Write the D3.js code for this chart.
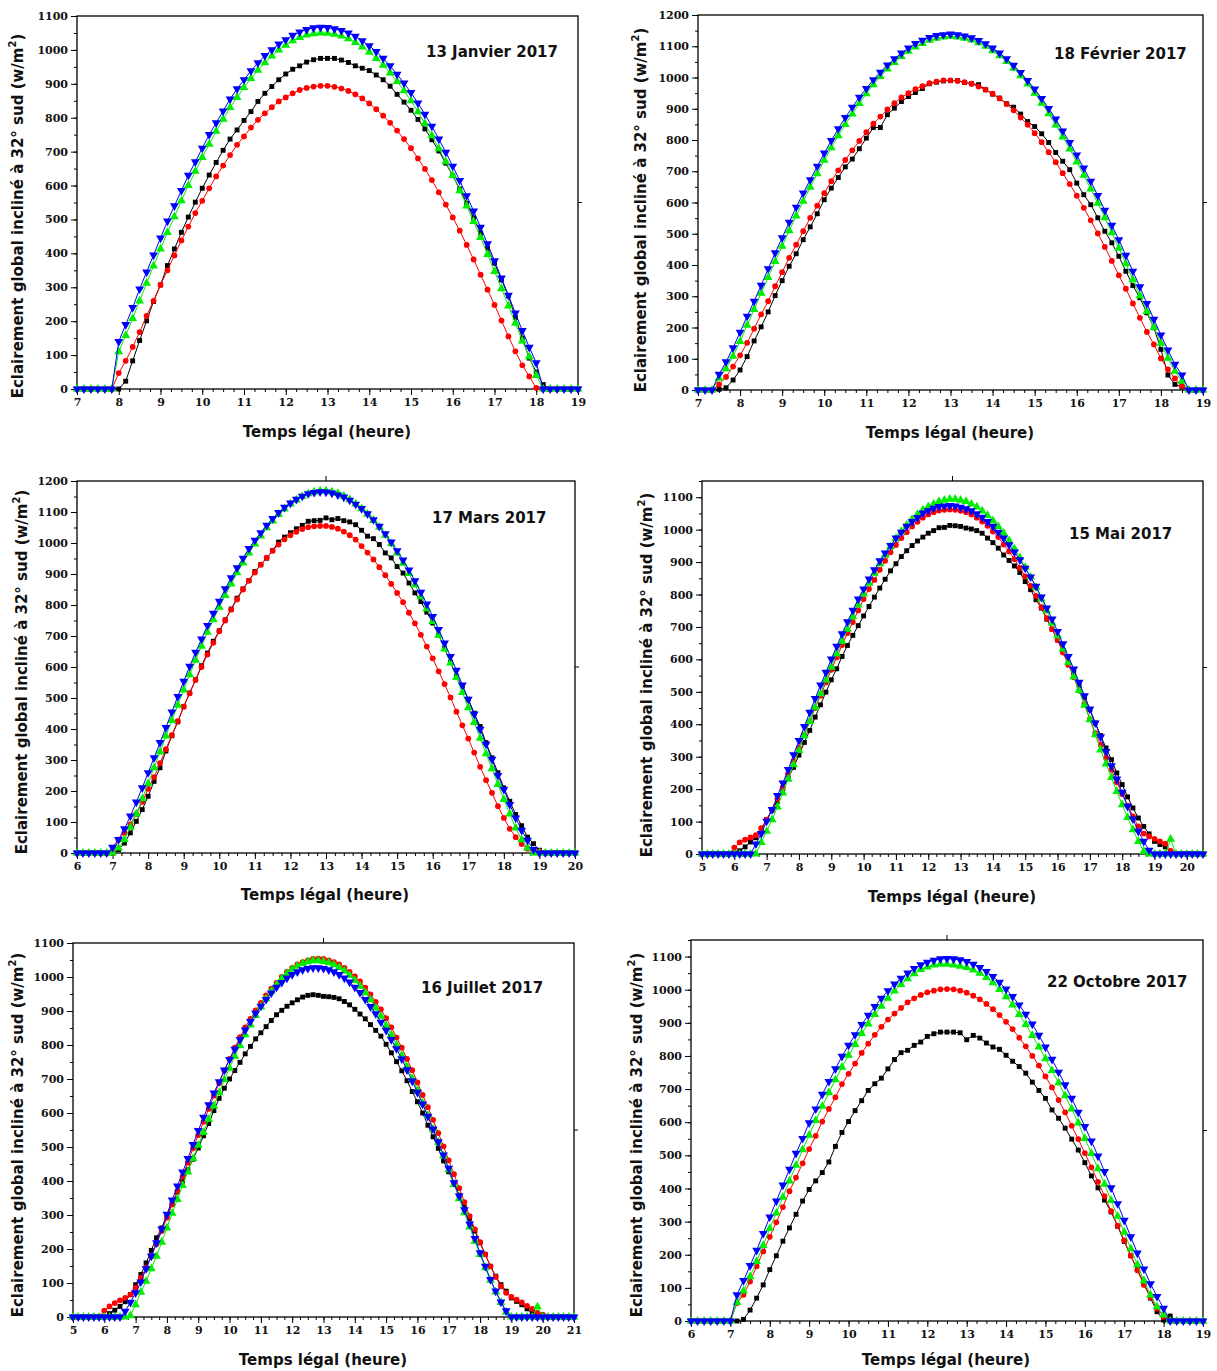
<!DOCTYPE html>
<html><head><meta charset="utf-8">
<script src="https://cdn.jsdelivr.net/npm/d3@7/dist/d3.min.js"></script>
<style>body{margin:0;background:#fff}</style>
</head><body>
<svg id="chart" width="1217" height="1371"></svg>
<script>
// ---------- DATA (values every 10 minutes, starting at the given hour) ----------
const titles = ["13 Janvier 2017","18 Février 2017","17 Mars 2017","15 Mai 2017","16 Juillet 2017","22 Octobre 2017"];
const startHours = [7, 7, 6, 5, 5, 6];
const xTickLabels = [
  [7,8,9,10,11,12,13,14,15,16,17,18,19],
  [7,8,9,10,11,12,13,14,15,16,17,18,19],
  [6,7,8,9,10,11,12,13,14,15,16,17,18,19,20],
  [5,6,7,8,9,10,11,12,13,14,15,16,17,18,19,20],
  [5,6,7,8,9,10,11,12,13,14,15,16,17,18,19,20,21],
  [6,7,8,9,10,11,12,13,14,15,16,17,18,19]
];
const yTickLabels = [
  [0,100,200,300,400,500,600,700,800,900,1000,1100],
  [0,100,200,300,400,500,600,700,800,900,1000,1100,1200],
  [0,100,200,300,400,500,600,700,800,900,1000,1100,1200],
  [0,100,200,300,400,500,600,700,800,900,1000,1100],
  [0,100,200,300,400,500,600,700,800,900,1000,1100],
  [0,100,200,300,400,500,600,700,800,900,1000,1100]
];
const seriesNames = ["black", "red", "green", "blue"];

// Panel 1 : 13 Janvier 2017 (7h -> 19h)
const jan_black = [0,0,0,0,0,0, 0,23,83,143,201,258, 307,364,413,462,507,551, 592,631,668,704,737,764, 792,818,848,872,892,912, 929,943,953,964,971,975, 975,975,970,963,953,946, 939,926,912,893,869,846, 822,795,767,735,702,666, 629,590,548,505,460,416, 371,322,275,211,150,91, 50,13,0,0,0,0, 0];
const jan_red   = [0,0,0,0,0,0, 47,83,124,168,216,260, 307,350,394,438,479,519, 555,592,627,659,690,720, 745,771,794,813,831,848, 860,872,882,888,892,894, 894,891,886,879,869,857, 842,825,806,785,762,737, 710,680,649,616,580,544, 506,467,425,382,337,293, 248,202,155,111,70,37, 3,0,0,0,0,0, 0];
const jan_green = [0,0,0,0,0,0, 110,158,208,260,312,363, 413,462,508,555,600,642, 683,722,760,796,830,860, 889,916,940,962,982,1000, 1014,1027,1037,1044,1048,1050, 1049,1046,1041,1033,1022,1009, 993,975,955,932,907,880, 850,818,783,747,709,670, 630,585,540,494,447,397, 347,296,245,194,142,95, 40,0,0,0,0,0, 0];
const jan_blue  = [0,0,0,0,0,0, 140,190,240,295,345,395, 445,495,540,585,630,670, 710,750,785,820,855,885, 912,938,962,983,1000,1017, 1030,1043,1053,1060,1065,1067, 1066,1062,1057,1050,1040,1027, 1012,995,975,953,928,902, 874,843,810,775,737,698, 657,615,570,525,477,428, 378,327,276,224,172,123, 77,0,0,0,0,0, 0];

// Panel 2 : 18 Février 2017 (7h -> 19h)
const feb_black = [0,0,0,2,7,32, 64,107,157,202,250,302, 350,396,436,481,522,564, 609,646,680,714,739,772, 806,840,840,881,902,923, 939,952,965,980,985,989, 990,990,984,980,977,961, 947,934,916,905,883,859, 843,820,792,760,732,705, 662,625,593,551,508,471, 428,380,334,295,247,199, 130,48,18,10,0,0, 0];
const feb_red   = [0,0,0,18,42,75, 111,151,196,242,284,332, 377,423,465,508,551,590, 630,668,703,736,767,797, 825,852,875,898,918,936, 950,963,972,982,987,991, 991,989,985,980,971,961, 948,933,915,895,872,849, 822,793,761,729,694,659, 622,583,543,501,458,413, 367,324,277,231,186,146, 101,66,37,13,0,0, 0];
const feb_green = [0,0,0,38,68,108, 155,207,258,310,360,411, 460,510,557,604,649,692, 735,775,814,850,883,917, 948,977,1003,1027,1048,1067, 1084,1098,1109,1119,1126,1130, 1132,1130,1126,1120,1111,1100, 1086,1070,1051,1030,1006,979, 950,918,884,848,810,771, 730,687,643,598,551,503, 454,404,353,302,251,200, 150,102,60,28,0,0, 0];
const feb_blue  = [0,0,0,50,90,135, 185,236,284,335,388,439, 487,537,585,630,673,716, 758,798,836,872,905,937, 965,993,1017,1040,1060,1078, 1094,1109,1119,1128,1134,1137, 1139,1137,1133,1127,1118,1108, 1094,1078,1060,1039,1016,990, 963,933,901,867,829,792, 752,710,668,622,575,527, 481,431,380,330,277,226, 176,128,82,48,0,0, 0];

// Panel 3 : 17 Mars 2017 (6h -> 20h)
const mar_black = [0,0,0,0,0,0, 0,11,32,65,102,140, 183,231,275,329,378,423, 472,516,559,604,645,683, 717,752,787,822,852,879, 908,930,951,976,1003,1019, 1033,1046,1057,1070,1072,1073, 1081,1075,1079,1072,1068,1059, 1041,1022,1014,995,968,952, 924,903,871,839,811,777, 742,703,661,615,570,539, 496,451,408,356,307,259, 210,167,124,88,51,30, 9,0,0,0,0,0, 0];
const mar_red   = [0,0,0,0,0,0, 0,43,65,92,126,165, 207,245,290,335,380,425, 472,515,558,600,640,678, 715,750,785,818,850,878, 905,930,953,975,995,1012, 1025,1036,1045,1051,1054,1055, 1055,1052,1046,1037,1025,1011, 990,969,947,922,896,868, 839,809,775,741,704,666, 628,586,545,502,456,412, 369,324,278,235,194,151, 113,78,51,29,14,5, 5,0,0,0,0,0, 0];
const mar_green = [0,0,0,0,0,0, 0,16,43,83,126,175, 224,275,326,378,428,477, 526,575,622,667,712,753, 793,831,868,904,936,968, 997,1023,1049,1071,1092,1110, 1126,1139,1150,1159,1165,1168, 1168,1165,1160,1151,1140,1126, 1111,1093,1073,1051,1025,998, 968,935,902,865,827,788, 747,703,658,613,566,518, 469,421,370,320,272,221, 173,126,81,43,16,0, 0,0,0,0,0,0, 0];
const mar_blue  = [0,0,0,0,0,0, 18,43,78,119,164,210, 259,307,356,405,455,505, 554,602,647,690,734,773, 812,852,888,920,951,982, 1009,1033,1057,1079,1098,1115, 1129,1141,1151,1159,1163,1165, 1164,1161,1155,1148,1138,1125, 1111,1094,1075,1054,1030,1003, 975,945,913,878,841,803, 763,721,677,634,589,542, 496,448,399,351,302,250, 205,156,113,73,41,11, 0,0,0,0,0,0, 0];

// Panel 4 : 15 Mai 2017 (5h -> 20h30)
const mai_black = [0,0,0,0,0,0, 3,10,22,37,50,75, 106,135,162,200,234,267, 305,344,381,422,460,499, 537,571,609,643,674,704, 734,763,792,820,847,873, 895,917,935,951,965,977, 989,997,1006,1007,1013,1012, 1010,1005,1002,997,989,974, 960,943,922,905,888,868, 840,815,784,758,724,693, 660,627,590,560,520,484, 445,404,365,327,291,250, 214,176,142,111,85,62, 39,29,22,6,0,0, 0,0,0,0];
const mai_red   = [0,0,0,0,0,0, 20,36,44,51,58,80, 106,137,170,206,248,286, 327,368,409,450,488,529, 568,606,644,681,715,751, 786,817,845,876,904,930, 953,974,992,1010,1024,1037, 1047,1054,1059,1061,1062,1061, 1058,1054,1047,1037,1025,1012, 994,977,954,933,909,882, 856,827,796,761,727,693, 660,621,583,545,504,463, 416,373,337,296,260,221, 185,149,116,85,63,54, 47,39,32,10,0,0, 0,0,0,0];
const mai_green = [0,0,0,0,0,0, 0,0,0,0,0,36, 70,106,145,188,231,275, 319,365,409,452,494,537, 576,617,655,693,732,768, 802,835,866,895,922,948, 973,994,1014,1032,1047,1061, 1071,1079,1087,1091,1094,1094, 1091,1087,1079,1070,1058,1044, 1028,1010,989,966,941,914, 884,854,822,786,750,712, 673,632,591,547,504,459, 414,368,321,278,236,193, 152,113,75,39,8,0, 0,0,0,46,0,0, 0,0,0,0];
const mai_blue  = [0,0,0,0,0,0, 0,0,0,0,31,63, 101,137,180,219,260,306, 350,393,437,479,521,560, 601,640,679,716,751,786, 817,848,876,904,928,951, 974,992,1010,1025,1037,1051, 1059,1066,1071,1073,1074,1073, 1069,1064,1058,1049,1038,1025, 1010,992,974,953,931,907, 881,854,825,792,758,724, 686,648,609,570,529,488, 447,404,361,316,272,231, 190,147,108,70,39,11, 0,0,0,0,0,0, 0,0,0,0];

// Panel 5 : 16 Juillet 2017 (5h -> 21h)
const jul_black = [0,0,0,0,0,0, 0,10,20,31,45,66, 95,125,159,196,233,262, 299,334,368,400,433,464, 497,533,569,607,643,673, 700,725,749,774,796,818, 836,854,872,889,902,914, 924,933,941,946,948,946, 943,942,940,936,928,918, 905,891,877,860,843,826, 802,777,751,724,695,663, 633,600,564,530,496,459, 427,393,358,323,289,253, 218,184,149,120,95,76, 56,46,36,24,10,0, 0,0,0,0,0,0, 0];
const jul_red   = [0,0,0,0,0,0, 19,31,41,49,56,66, 86,115,145,179,215,253, 292,331,371,413,454,496, 535,574,612,651,688,725, 759,792,823,852,877,902, 924,946,966,983,1000,1015, 1027,1037,1044,1049,1053,1054, 1053,1049,1044,1037,1027,1015, 1002,987,969,949,927,905, 879,852,822,792,759,726, 690,653,617,580,541,502, 461,420,379,338,297,258, 220,184,149,118,90,71, 59,51,43,33,24,12, 7,0,0,0,0,0, 0];
const jul_green = [0,0,0,0,0,0, 0,0,0,0,0,4, 36,73,105,142,179,220, 262,305,346,387,427,466, 505,543,582,621,660,698, 732,767,798,830,859,887, 912,936,958,977,995,1010, 1023,1032,1040,1045,1048,1048, 1046,1042,1036,1028,1018,1005, 990,973,954,933,909,885, 857,830,800,769,736,702, 667,629,592,553,514,474, 433,390,348,307,265,223, 184,145,108,74,43,14, 0,0,0,0,0,30, 0,0,0,0,0,0, 0];
const jul_blue  = [0,0,0,0,0,0, 0,0,0,0,17,43, 71,103,142,179,218,259, 302,344,385,426,466,507, 548,587,624,659,692,726, 757,787,816,844,869,893, 914,934,953,970,984,997, 1007,1015,1021,1025,1027,1027, 1025,1021,1015,1007,997,985, 970,954,934,913,892,867, 843,816,789,759,727,694, 661,626,590,553,515,476, 437,395,356,315,273,231, 189,149,110,76,44,18, 0,0,0,0,0,0, 0,0,0,0,0,0, 0];

// Panel 6 : 22 Octobre 2017 (6h -> 19h)
const oct_black = [0,0,0,0,0,0, 0,0,5,33,69,109, 155,197,241,281,322,362, 397,423,448,480,527,569, 602,635,665,696,716,733, 761,789,810,817,832,842, 859,867,872,872,872,870, 849,862,854,839,827,820, 802,784,768,748,721,696, 672,637,612,582,549,516, 478,438,402,365,329,286, 240,197,155,114,69,28, 3,15,0,0,0,0, 0];
const oct_red   = [0,0,0,0,0,0, 0,54,79,119,165,210, 254,298,344,392,433,476, 519,559,602,640,675,715, 746,777,809,837,864,888, 910,928,945,962,974,984, 992,997,1001,1002,1001,997, 991,982,971,957,941,923, 903,881,855,829,800,771, 738,705,667,630,589,549, 507,464,420,377,332,288, 243,197,153,109,71,38, 13,0,0,0,0,0, 0];
const oct_green = [0,0,0,0,0,0, 0,56,91,134,180,228, 279,326,374,423,470,517, 561,605,648,689,728,766, 802,835,868,897,925,950, 974,996,1016,1033,1048,1061, 1069,1075,1077,1077,1075,1071, 1067,1060,1050,1037,1021,1001, 979,954,925,895,862,827, 792,756,719,680,640,598, 551,506,460,413,364,316, 268,218,170,122,79,43, 18,0,0,0,0,0, 0];
const oct_blue  = [0,0,0,0,0,0, 0,79,122,167,213,264, 314,362,410,458,506,551, 598,640,684,723,761,799, 832,864,895,923,949,974, 997,1017,1034,1050,1064,1075, 1083,1089,1093,1094,1093,1090, 1085,1077,1067,1055,1040,1022, 1002,979,954,926,896,862, 827,790,751,713,672,630, 587,543,498,451,402,354, 304,254,205,157,112,74, 38,0,0,0,0,0, 0];

const panelSeries = [
  [jan_black, jan_red, jan_green, jan_blue],
  [feb_black, feb_red, feb_green, feb_blue],
  [mar_black, mar_red, mar_green, mar_blue],
  [mai_black, mai_red, mai_green, mai_blue],
  [jul_black, jul_red, jul_green, jul_blue],
  [oct_black, oct_red, oct_green, oct_blue]
];

// ---------- LAYOUT ----------
const layout = [
  {xmin:7, xmax:19,   ymax:1100, left:77,  right:578,  top:16,  bottom:389,  ylab:[18,216],  xlab:[327,437],  title:[426,57],  topTick:false},
  {xmin:7, xmax:19,   ymax:1200, left:698, right:1203, top:15,  bottom:390,  ylab:[641,210], xlab:[950,438],  title:[1054,59], topTick:false},
  {xmin:6, xmax:20,   ymax:1200, left:77,  right:575,  top:481, bottom:853,  ylab:[22,672],  xlab:[325,900],  title:[432,523], topTick:true},
  {xmin:5, xmax:20.5, ymax:1150, left:702, right:1203, top:481, bottom:854,  ylab:[647,675], xlab:[952,902],  title:[1069,539],topTick:true},
  {xmin:5, xmax:21,   ymax:1100, left:73,  right:574,  top:943, bottom:1317, ylab:[18,1135], xlab:[323,1365], title:[421,993], topTick:true},
  {xmin:6, xmax:19,   ymax:1150, left:691, right:1203, top:940, bottom:1321, ylab:[637,1135],xlab:[946,1365], title:[1047,987], topTick:true}
];
const colors = {black:"#000000", red:"#ff0000", green:"#00ee00", blue:"#0000ff"};
const symbols = {
  black:{type:d3.symbolSquare, size:24, rot:0},
  red:{type:d3.symbolCircle, size:26, rot:0},
  green:{type:d3.symbolTriangle, size:34, rot:0},
  blue:{type:d3.symbolTriangle, size:34, rot:180}
};

const svg = d3.select("#chart");
const tickFont = "'DejaVu Serif', serif";
const titleFont = "'DejaVu Sans', Verdana, sans-serif";

layout.forEach((L, p) => {
  const g = svg.append("g");
  const x = d3.scaleLinear().domain([L.xmin, L.xmax]).range([L.left, L.right]);
  const y = d3.scaleLinear().domain([0, L.ymax]).range([L.bottom, L.top]);

  // minor ticks
  const xMinor = d3.range(L.xmin, L.xmax + 1e-6, 0.25);
  const yMinor = d3.range(0, L.ymax + 1e-6, 50);
  g.append("g").attr("transform", `translate(0,${L.bottom})`)
    .call(d3.axisBottom(x).tickValues(xMinor).tickSize(3).tickFormat(""))
    .call(a => a.select(".domain").remove());
  g.append("g").attr("transform", `translate(${L.left},0)`)
    .call(d3.axisLeft(y).tickValues(yMinor).tickSize(3).tickFormat(""))
    .call(a => a.select(".domain").remove());

  // major ticks
  const xa = g.append("g").attr("transform", `translate(0,${L.bottom})`)
    .call(d3.axisBottom(x).tickValues(xTickLabels[p]).tickSize(6).tickPadding(3).tickFormat(d3.format("d")));
  xa.select(".domain").remove();
  const ya = g.append("g").attr("transform", `translate(${L.left},0)`)
    .call(d3.axisLeft(y).tickValues(yTickLabels[p]).tickSize(6).tickPadding(3).tickFormat(d3.format("d")));
  ya.select(".domain").remove();
  g.selectAll(".tick text").attr("font-family", tickFont).attr("font-weight", "bold")
    .attr("font-size", 11).attr("fill", "#111");
  g.selectAll(".tick line").attr("stroke", "#000").attr("stroke-width", 1);

  // frame
  g.append("rect").attr("x", L.left).attr("y", L.top)
    .attr("width", L.right - L.left).attr("height", L.bottom - L.top)
    .attr("fill", "none").attr("stroke", "#000").attr("stroke-width", 1.3);
  // right-middle tick and top-middle tick
  const midY = (L.top + L.bottom) / 2, midX = (L.left + L.right) / 2;
  g.append("line").attr("x1", L.right).attr("x2", L.right + 4).attr("y1", midY).attr("y2", midY).attr("stroke", "#000");
  if (L.topTick) g.append("line").attr("x1", midX).attr("x2", midX).attr("y1", L.top).attr("y2", L.top - 5).attr("stroke", "#000");

  // series
  const start = startHours[p];
  panelSeries[p].forEach((vals, s) => {
    const name = seriesNames[s];
    const pts = vals.map((v, i) => [start + i / 6, v]);
    g.append("path").datum(pts)
      .attr("d", d3.line().x(d => x(d[0])).y(d => y(d[1])))
      .attr("fill", "none").attr("stroke", colors[name]).attr("stroke-width", 1);
    const sym = symbols[name];
    g.append("g").selectAll("path").data(pts).join("path")
      .attr("d", d3.symbol().type(sym.type).size(sym.size))
      .attr("transform", d => `translate(${x(d[0])},${y(d[1])}) rotate(${sym.rot})`)
      .attr("fill", colors[name]);
  });

  // title
  g.append("text").attr("x", L.title[0]).attr("y", L.title[1])
    .attr("font-family", titleFont).attr("font-weight", "bold").attr("font-size", 15)
    .attr("fill", "#111").text(titles[p]);
  // x label
  g.append("text").attr("x", L.xlab[0]).attr("y", L.xlab[1]).attr("text-anchor", "middle")
    .attr("font-family", titleFont).attr("font-weight", "bold").attr("font-size", 15)
    .attr("fill", "#111").text("Temps légal (heure)");
  // y label
  const yl = g.append("text").attr("transform", `translate(${L.ylab[0]},${L.ylab[1]}) rotate(-90)`)
    .attr("text-anchor", "middle").attr("dominant-baseline", "central")
    .attr("font-family", titleFont).attr("font-weight", "bold").attr("font-size", 15).attr("fill", "#111");
  yl.append("tspan").text("Eclairement global incliné à 32° sud (w/m");
  yl.append("tspan").attr("font-size", 10).attr("dy", -6).text("2");
  yl.append("tspan").attr("dy", 6).text(")");
});
</script>
</body></html>
